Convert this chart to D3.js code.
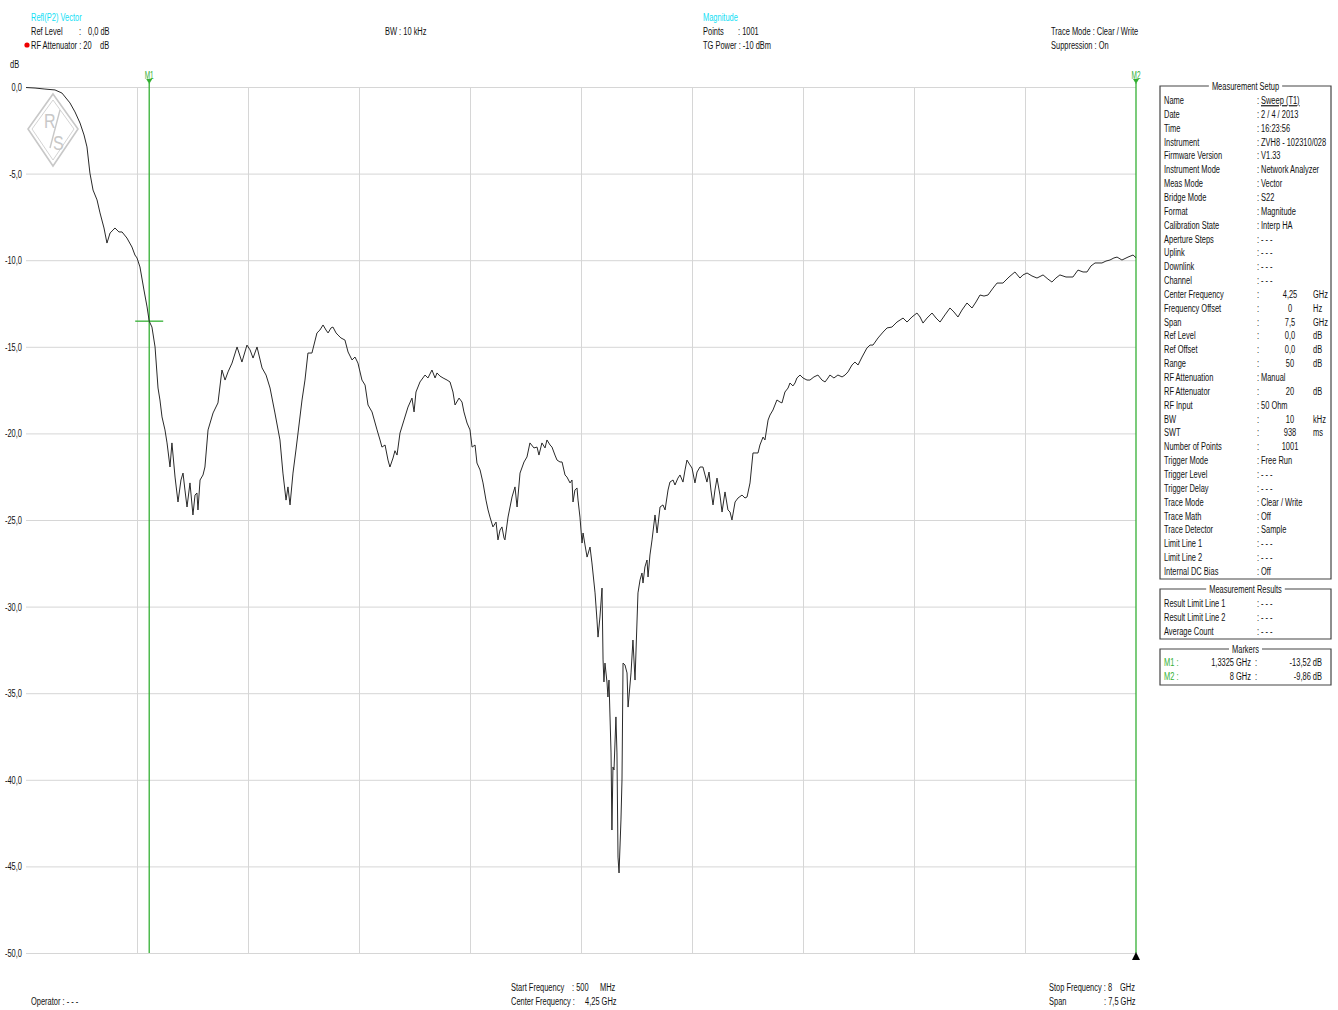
<!DOCTYPE html>
<html>
<head>
<meta charset="utf-8">
<script src="https://cdnjs.cloudflare.com/ajax/libs/d3/7.8.5/d3.min.js"></script>
<style>
  body { margin: 0; background: #fff; }
  svg text { font-family: "Liberation Sans", Arial, sans-serif; font-size: 11.5px; fill: #111; }
  .grid line { stroke: #d6d6d6; }
  .grid path { display: none; }
</style>
</head>
<body>
<svg id="canvas" width="1338" height="1010"></svg>
<script>
// trace (GHz, dB)
const freqGHz = [0.500,0.561,0.628,0.696,0.743,0.797,0.831,0.865,0.892,0.912,0.932,0.953,0.980,1.000,1.027,1.047,1.068,1.088,1.101,1.128,1.149,1.182,1.216,1.236,1.250,1.270,1.297,1.318,1.3325,1.351,1.372,1.392,1.405,1.419,1.439,1.453,1.473,1.486,1.507,1.527,1.547,1.561,1.574,1.588,1.608,1.628,1.642,1.655,1.662,1.676,1.696,1.709,1.730,1.764,1.797,1.824,1.845,1.865,1.892,1.926,1.959,1.993,2.014,2.034,2.061,2.095,2.122,2.149,2.182,2.216,2.236,2.257,2.270,2.284,2.304,2.324,2.338,2.365,2.385,2.405,2.432,2.466,2.486,2.507,2.527,2.541,2.561,2.574,2.595,2.608,2.628,2.655,2.676,2.703,2.723,2.743,2.770,2.791,2.811,2.838,2.872,2.892,2.905,2.926,2.946,2.959,2.980,2.993,3.007,3.027,3.054,3.081,3.108,3.122,3.135,3.162,3.196,3.216,3.243,3.264,3.277,3.297,3.318,3.345,3.365,3.385,3.399,3.426,3.446,3.459,3.480,3.500,3.514,3.534,3.547,3.568,3.588,3.608,3.622,3.635,3.655,3.676,3.689,3.703,3.716,3.730,3.736,3.757,3.784,3.804,3.818,3.838,3.865,3.885,3.905,3.932,3.953,3.966,3.986,4.007,4.020,4.041,4.054,4.074,4.088,4.108,4.122,4.142,4.155,4.176,4.189,4.196,4.209,4.223,4.230,4.243,4.257,4.264,4.277,4.291,4.311,4.324,4.345,4.358,4.365,4.378,4.392,4.399,4.405,4.412,4.426,4.432,4.439,4.453,4.459,4.466,4.473,4.486,4.493,4.500,4.507,4.520,4.527,4.534,4.547,4.561,4.568,4.588,4.601,4.615,4.635,4.649,4.662,4.669,4.682,4.696,4.703,4.716,4.730,4.750,4.764,4.784,4.804,4.818,4.838,4.851,4.872,4.885,4.905,4.919,4.939,4.953,4.966,4.986,5.000,5.020,5.034,5.054,5.074,5.088,5.101,5.115,5.128,5.142,5.155,5.169,5.189,5.203,5.223,5.243,5.257,5.270,5.291,5.311,5.338,5.358,5.372,5.392,5.412,5.446,5.459,5.480,5.493,5.514,5.527,5.547,5.574,5.595,5.608,5.628,5.649,5.662,5.682,5.696,5.709,5.730,5.750,5.777,5.797,5.824,5.851,5.878,5.899,5.919,5.932,5.959,5.986,6.014,6.034,6.054,6.081,6.101,6.122,6.149,6.182,6.203,6.223,6.257,6.291,6.318,6.351,6.385,6.426,6.453,6.486,6.520,6.541,6.561,6.588,6.622,6.649,6.676,6.709,6.743,6.770,6.797,6.824,6.858,6.892,6.919,6.946,6.973,7.000,7.034,7.061,7.101,7.142,7.182,7.216,7.236,7.264,7.297,7.331,7.372,7.405,7.432,7.459,7.486,7.527,7.574,7.608,7.642,7.669,7.696,7.723,7.770,7.797,7.824,7.851,7.872,7.905,7.946,7.980,8.000];
const magDb = [-0.03,-0.06,-0.12,-0.17,-0.35,-0.92,-1.44,-2.08,-2.77,-3.46,-4.97,-5.95,-6.52,-7.27,-8.14,-9.01,-8.43,-8.26,-8.14,-8.37,-8.37,-8.72,-9.24,-9.70,-9.87,-10.39,-11.72,-12.70,-13.52,-13.86,-15.01,-17.38,-18.07,-19.05,-19.80,-20.55,-21.94,-20.55,-22.52,-23.96,-22.69,-22.29,-23.27,-24.25,-22.86,-24.71,-23.56,-23.44,-24.42,-22.69,-22.40,-21.94,-19.80,-18.82,-18.24,-16.34,-16.92,-16.45,-15.94,-15.01,-15.88,-14.90,-15.18,-15.65,-15.01,-16.22,-16.63,-17.38,-18.82,-20.38,-22.29,-23.85,-23.09,-24.13,-22.29,-20.96,-19.98,-18.07,-16.92,-15.36,-15.36,-14.20,-14.03,-13.74,-14.03,-14.20,-13.91,-13.86,-14.20,-14.32,-14.49,-14.61,-15.30,-15.76,-15.59,-15.94,-16.92,-17.21,-18.36,-18.76,-19.80,-20.38,-20.79,-20.67,-21.54,-21.94,-21.42,-21.00,-21.25,-19.98,-19.23,-18.48,-17.96,-18.76,-17.61,-17.03,-16.63,-16.80,-16.34,-16.80,-16.51,-16.69,-16.80,-16.92,-17.03,-17.61,-18.36,-17.96,-18.19,-18.76,-19.40,-19.80,-20.79,-20.67,-21.71,-22.11,-22.86,-23.85,-24.42,-24.83,-25.40,-25.12,-26.15,-25.58,-25.40,-26.04,-26.15,-24.83,-23.67,-23.09,-24.25,-22.29,-21.65,-21.36,-20.55,-20.84,-20.79,-21.25,-20.55,-20.84,-20.38,-20.67,-20.79,-21.25,-21.54,-21.65,-21.65,-22.40,-22.52,-22.86,-22.69,-23.96,-23.27,-23.15,-23.85,-24.83,-26.33,-25.75,-26.44,-27.14,-26.56,-27.48,-29.21,-30.77,-31.76,-30.60,-28.93,-33.08,-34.35,-33.26,-34.41,-35.22,-34.24,-38.45,-42.90,-39.26,-39.43,-36.37,-38.45,-44.46,-45.38,-42.32,-40.01,-33.26,-33.37,-33.83,-35.80,-33.83,-31.93,-34.24,-29.21,-28.46,-28.06,-28.64,-27.71,-27.31,-28.29,-27.02,-26.15,-24.71,-25.75,-24.25,-24.13,-24.42,-23.27,-22.81,-22.69,-22.98,-22.58,-22.40,-22.81,-22.11,-21.54,-21.82,-22.00,-22.86,-22.23,-21.94,-21.94,-22.40,-22.81,-22.23,-23.27,-24.13,-23.27,-22.58,-23.56,-24.54,-23.38,-24.42,-24.54,-25.00,-23.96,-23.73,-23.56,-23.73,-23.67,-22.86,-21.13,-21.13,-20.67,-20.21,-20.38,-19.23,-18.94,-18.65,-18.07,-18.19,-18.24,-17.61,-17.38,-17.09,-17.26,-17.09,-16.80,-16.63,-16.80,-16.92,-16.92,-16.74,-16.63,-16.92,-17.03,-16.80,-16.63,-16.80,-16.63,-16.74,-16.63,-16.45,-16.05,-15.88,-16.05,-15.59,-15.07,-14.90,-14.90,-14.49,-14.15,-13.91,-13.86,-13.57,-13.34,-13.57,-13.28,-13.05,-13.28,-13.63,-13.34,-13.05,-13.34,-13.57,-13.16,-12.76,-12.99,-13.28,-12.88,-12.47,-12.76,-12.41,-12.01,-12.07,-12.01,-11.61,-11.32,-11.32,-10.97,-10.68,-11.03,-10.85,-10.74,-10.91,-11.03,-10.85,-11.09,-11.26,-11.03,-10.85,-10.97,-10.97,-10.57,-10.68,-10.68,-10.33,-10.16,-10.16,-10.05,-9.99,-9.87,-9.82,-9.99,-9.82,-9.70,-9.86];

const xTicks = [0.5,1.25,2.0,2.75,3.5,4.25,5.0,5.75,6.5,7.25,8.0];
const yTicks = [0,-5,-10,-15,-20,-25,-30,-35,-40,-45,-50];

// markers: name, frequency (GHz), level (dB)
const markerNames = ["M1","M2"];
const markerFreq = [1.3325, 8];
const markerDb = [-13.52, -9.86];
const markerFreqText = ["1,3325 GHz", "8 GHz"];
const markerDbText = ["-13,52 dB", "-9,86 dB"];

// setup table: label, value, unit, kind (t = text after colon, n = number column, u = underlined)
const setupRows = [
  ["Name","Sweep (T1)","","u"],["Date","2 / 4 / 2013","","t"],["Time","16:23:56","","t"],
  ["Instrument","ZVH8 - 102310/028","","t"],["Firmware Version","V1.33","","t"],
  ["Instrument Mode","Network Analyzer","","t"],["Meas Mode","Vector","","t"],
  ["Bridge Mode","S22","","t"],["Format","Magnitude","","t"],["Calibration State","Interp HA","","t"],
  ["Aperture Steps","- - -","","t"],["Uplink","- - -","","t"],["Downlink","- - -","","t"],["Channel","- - -","","t"],
  ["Center Frequency","4,25","GHz","n"],["Frequency Offset","0","Hz","n"],["Span","7,5","GHz","n"],
  ["Ref Level","0,0","dB","n"],["Ref Offset","0,0","dB","n"],["Range","50","dB","n"],
  ["RF Attenuation","Manual","","t"],["RF Attenuator","20","dB","n"],["RF Input","50 Ohm","","t"],
  ["BW","10","kHz","n"],["SWT","938","ms","n"],["Number of Points","1001","","n"],
  ["Trigger Mode","Free Run","","t"],["Trigger Level","- - -","","t"],["Trigger Delay","- - -","","t"],
  ["Trace Mode","Clear / Write","","t"],["Trace Math","Off","","t"],["Trace Detector","Sample","","t"],
  ["Limit Line 1","- - -","","t"],["Limit Line 2","- - -","","t"],["Internal DC Bias","Off","","t"]
];
const resultRows = [["Result Limit Line 1","- - -"],["Result Limit Line 2","- - -"],["Average Count","- - -"]];

const green = "#34b034";
const cyan = "#11e0f5";
const sx = 0.65; // the instrument font is a narrow one

const svg = d3.select("#canvas");
const pLeft = 26, pRight = 1136, pTop = 87, pBottom = 953;

//narrow text helper
function txt(px, py, s, anchor) {
  return svg.append("text")
    .attr("transform", `translate(${px},${py}) scale(${sx},1)`)
    .attr("text-anchor", anchor || "start")
    .text(s);
}

const x = d3.scaleLinear().domain([0.5, 8]).range([pLeft, pRight]);
const y = d3.scaleLinear().domain([-50, 0]).range([pBottom, pTop]);
const loc = d3.formatLocale({decimal: ",", thousands: ".", grouping: [3], currency: ["", ""], minus: "-"});
const fmt = loc.format(".1f");

//grid
svg.append("g").attr("class", "grid")
  .attr("transform", "translate(0," + pTop + ")")
  .call(d3.axisBottom(x).tickValues(xTicks.slice(1, -1)).tickSize(pBottom - pTop).tickFormat(""));
svg.append("g").attr("class", "grid")
  .attr("transform", "translate(" + pLeft + ",0)")
  .call(d3.axisRight(y).tickValues(yTicks).tickSize(pRight - pLeft).tickFormat(""));

// y labels
svg.selectAll(".ylab").data(yTicks).join("text")
  .attr("class", "ylab")
  .attr("transform", d => `translate(22,${y(d) + 4}) scale(${sx},1)`)
  .attr("text-anchor", "end").text(d => fmt(d));
txt(10, 68, "dB");

// R&S logo watermark
const logo = svg.append("g").attr("fill", "none").attr("stroke", "#c8c8c8").attr("stroke-width", 1.6);
logo.append("path").attr("d", "M53,94 L78,129 L53,166 L28,129 Z");
logo.append("path").attr("d", "M53,100 L74,129 L53,160 L32,129 Z").attr("stroke-width", 0.8);
svg.append("text").attr("transform", "translate(44,128) scale(0.8,1)").style("fill", "#c8c8c8").style("font-size", "20px").text("R");
svg.append("line").attr("x1", 60).attr("y1", 110).attr("x2", 50).attr("y2", 148).attr("stroke", "#c8c8c8").attr("stroke-width", 1.4);
svg.append("text").attr("transform", "translate(53,150) scale(0.8,1)").style("fill", "#c8c8c8").style("font-size", "20px").text("S");

// markers
markerFreq.forEach((f, i) => {
  const mx = x(f);
  svg.append("line").attr("x1", mx).attr("x2", mx).attr("y1", pTop - 4).attr("y2", pBottom)
    .attr("stroke", green).attr("stroke-width", 1.3);
  svg.append("path").attr("d", `M${mx - 3},${pTop - 8} L${mx + 3},${pTop - 8} L${mx},${pTop - 3} Z`).attr("fill", green);
  txt(mx, pTop - 8, markerNames[i], "middle").style("fill", green).style("font-size", "10px");
});
// M1 level tick
svg.append("line").attr("x1", x(markerFreq[0]) - 14).attr("x2", x(markerFreq[0]) + 14)
  .attr("y1", y(markerDb[0])).attr("y2", y(markerDb[0])).attr("stroke", green).attr("stroke-width", 1.3);

// trace
const data = freqGHz.map((f, i) => ({f: f, v: magDb[i]}));
const line = d3.line().x(d => x(d.f)).y(d => y(d.v));
svg.append("path").datum(data).attr("fill", "none").attr("stroke", "#2a2a2a")
  .attr("stroke-width", 1).attr("stroke-linejoin", "round").attr("d", line);

// reference level arrow
svg.append("path").attr("d", `M${pRight - 4},${pBottom + 7} L${pRight + 4},${pBottom + 7} L${pRight},${pBottom - 1} Z`).attr("fill", "#000");

// header
txt(31, 21, "Refl(P2) Vector").style("fill", cyan);
txt(31, 35, "Ref Level"); txt(79, 35, ":"); txt(88, 35, "0,0 dB");
txt(31, 49, "RF Attenuator : 20"); txt(100, 49, "dB");
svg.append("circle").attr("cx", 27).attr("cy", 45).attr("r", 2.6).attr("fill", "#e00");
txt(385, 35, "BW : 10 kHz");
txt(703, 21, "Magnitude").style("fill", cyan);
txt(703, 35, "Points"); txt(738, 35, ": 1001");
txt(703, 49, "TG Power : -10 dBm");
txt(1051, 35, "Trace Mode : Clear / Write");
txt(1051, 49, "Suppression : On");

// footer
txt(31, 1005, "Operator : - - -");
txt(511, 991, "Start Frequency"); txt(572, 991, ": 500"); txt(600, 991, "MHz");
txt(511, 1005, "Center Frequency :"); txt(585, 1005, "4,25 GHz");
txt(1049, 991, "Stop Frequency : 8"); txt(1120, 991, "GHz");
txt(1049, 1005, "Span"); txt(1104, 1005, ": 7,5 GHz");

// side panel boxes
function box(y0, y1, title) {
  const bx0 = 1160, bx1 = 1331;
  const cx = (bx0 + bx1) / 2;
  const t = txt(cx, y0 + 4, title, "middle");
  const w = t.node().getComputedTextLength() * sx;
  svg.append("path")
    .attr("d", `M${cx - w / 2 - 3},${y0} L${bx0},${y0} L${bx0},${y1} L${bx1},${y1} L${bx1},${y0} L${cx + w / 2 + 3},${y0}`)
    .attr("fill", "none").attr("stroke", "#444").attr("stroke-width", 1.2);
}
box(86, 579, "Measurement Setup");
box(589, 639, "Measurement Results");
box(649, 685, "Markers");

const rowH = 13.85;
setupRows.forEach((r, i) => {
  const ry = 104 + i * rowH;
  txt(1164, ry, r[0]);
  txt(1257, ry, ":");
  if (r[3] === "n") {
    txt(1290, ry, r[1], "middle");
    if (r[2]) txt(1313, ry, r[2]);
  } else {
    const t = txt(1261, ry, r[1]);
    if (r[3] === "u") t.attr("text-decoration", "underline");
  }
});
resultRows.forEach((r, i) => {
  const ry = 607 + i * rowH;
  txt(1164, ry, r[0]);
  txt(1257, ry, ":");
  txt(1261, ry, r[1]);
});
markerNames.forEach((m, i) => {
  const ry = 666 + i * rowH;
  txt(1164, ry, m + " :").style("fill", green);
  txt(1251, ry, markerFreqText[i], "end");
  txt(1255, ry, ":");
  txt(1322, ry, markerDbText[i], "end");
});
</script>
</body>
</html>
